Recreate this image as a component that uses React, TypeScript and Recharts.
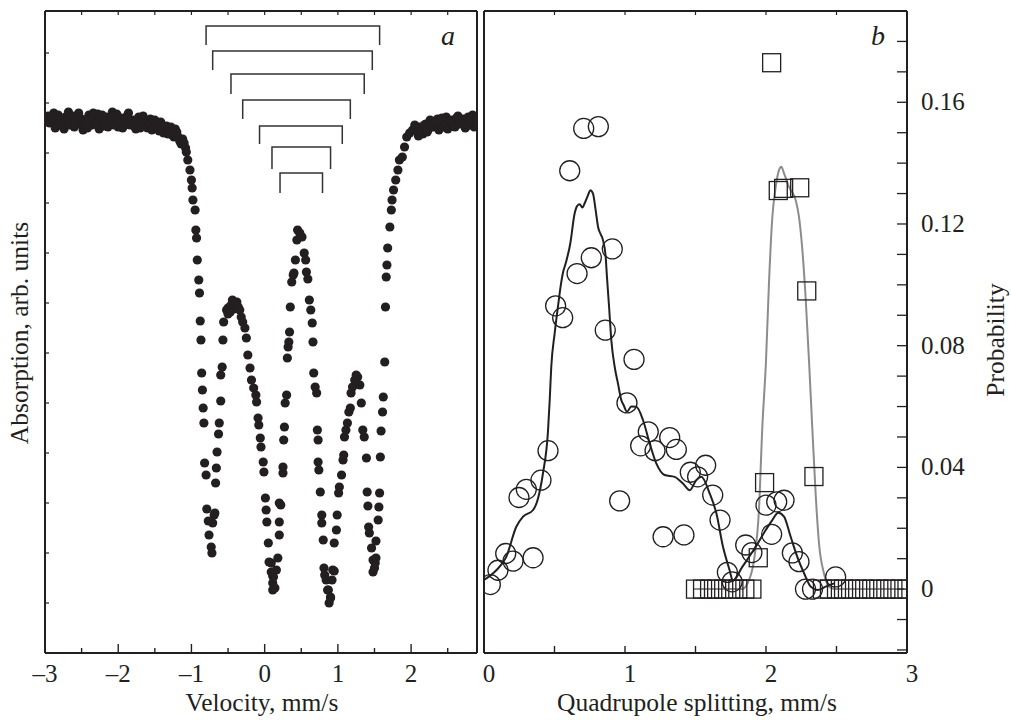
import React from 'react'
import { ComposedChart, Scatter, Line, XAxis, YAxis } from 'recharts'

const INK = '#231f20'
const GREY = '#8c8c8c'
const SERIF = "'Liberation Serif', 'Times New Roman', serif"

// panel a: Mössbauer spectrum [velocity mm/s, absorption arb. units]
const wingLeftA: [number, number][] = [
  [-2.96, 5.37], [-2.92, 5.32], [-2.88, 5.40], [-2.84, 5.29], [-2.80, 5.34], [-2.76, 5.27], [-2.72, 5.36], [-2.68, 5.41],
  [-2.64, 5.31], [-2.60, 5.26], [-2.56, 5.35], [-2.52, 5.29], [-2.48, 5.23], [-2.44, 5.33], [-2.40, 5.38], [-2.36, 5.28],
  [-2.32, 5.32], [-2.28, 5.39], [-2.24, 5.34], [-2.20, 5.27], [-2.16, 5.36], [-2.12, 5.31], [-2.08, 5.41], [-2.04, 5.33],
  [-2.00, 5.26], [-1.96, 5.35], [-1.92, 5.30], [-1.88, 5.37], [-1.84, 5.28], [-1.80, 5.33], [-1.76, 5.24], [-1.72, 5.36],
  [-1.68, 5.29], [-1.64, 5.32], [-1.60, 5.25], [-1.56, 5.34], [-1.52, 5.27], [-1.48, 5.30], [-1.44, 5.22], [-1.40, 5.28],
  [-1.36, 5.24], [-1.32, 5.19], [-1.28, 5.26], [-1.24, 5.16], [-1.20, 5.21], [-1.16, 5.12], [-1.12, 5.14], [-1.08, 5.05],
]
const wingLeftB: [number, number][] = [
  [-2.94, 5.30], [-2.90, 5.36], [-2.86, 5.25], [-2.82, 5.38], [-2.78, 5.31], [-2.74, 5.24], [-2.70, 5.33], [-2.66, 5.28],
  [-2.62, 5.37], [-2.58, 5.32], [-2.54, 5.40], [-2.50, 5.34], [-2.46, 5.29], [-2.42, 5.25], [-2.38, 5.35], [-2.34, 5.40],
  [-2.30, 5.29], [-2.26, 5.24], [-2.22, 5.38], [-2.18, 5.32], [-2.14, 5.26], [-2.10, 5.35], [-2.06, 5.28], [-2.02, 5.39],
  [-1.98, 5.32], [-1.94, 5.25], [-1.90, 5.34], [-1.86, 5.40], [-1.82, 5.31], [-1.78, 5.27], [-1.74, 5.32], [-1.70, 5.25],
  [-1.66, 5.37], [-1.62, 5.30], [-1.58, 5.28], [-1.54, 5.23], [-1.50, 5.33], [-1.46, 5.26], [-1.42, 5.31], [-1.38, 5.20],
  [-1.34, 5.27], [-1.30, 5.22], [-1.26, 5.18], [-1.22, 5.24], [-1.18, 5.16], [-1.14, 5.09], [-1.10, 5.10],
]
const resonance: [number, number][] = [
  [-1.07, 5.01], [-1.05, 4.93], [-1.02, 4.83], [-1.00, 4.73], [-0.99, 4.65], [-0.98, 4.53], [-0.95, 4.43], [-0.94, 4.23],
  [-0.93, 4.15], [-0.92, 3.93], [-0.90, 3.73], [-0.89, 3.60], [-0.88, 3.32], [-0.87, 3.13], [-0.86, 2.80], [-0.85, 2.63],
  [-0.84, 2.45], [-0.83, 2.30], [-0.82, 1.90], [-0.80, 1.78], [-0.79, 1.44], [-0.77, 1.32], [-0.76, 1.18], [-0.73, 1.06],
  [-0.72, 1.00], [-0.71, 1.30], [-0.69, 1.38], [-0.68, 1.40], [-0.67, 1.70], [-0.66, 1.85], [-0.65, 2.01], [-0.63, 2.19],
  [-0.62, 2.30], [-0.60, 2.52], [-0.60, 2.78], [-0.58, 2.86], [-0.57, 3.13], [-0.56, 3.31], [-0.52, 3.43], [-0.50, 3.39],
  [-0.50, 3.45], [-0.48, 3.46], [-0.47, 3.41], [-0.45, 3.49], [-0.44, 3.53], [-0.42, 3.44], [-0.41, 3.50], [-0.40, 3.47],
  [-0.38, 3.51], [-0.36, 3.46], [-0.34, 3.43], [-0.32, 3.36], [-0.30, 3.31], [-0.27, 3.25], [-0.25, 3.15], [-0.23, 2.98],
  [-0.20, 2.85], [-0.18, 2.73], [-0.15, 2.65], [-0.12, 2.58], [-0.11, 2.51], [-0.09, 2.35], [-0.08, 2.28], [-0.06, 2.15],
  [-0.05, 2.06], [-0.02, 1.91], [-0.01, 1.81], [0.01, 1.55], [0.02, 1.43], [0.03, 1.31], [0.05, 1.10], [0.06, 0.91],
  [0.09, 0.90], [0.09, 0.81], [0.11, 0.77], [0.11, 0.70], [0.11, 0.63], [0.12, 0.76], [0.14, 0.65], [0.16, 0.83],
  [0.18, 0.95], [0.20, 1.18], [0.20, 1.31], [0.20, 1.50], [0.22, 1.48], [0.25, 1.80], [0.25, 1.86], [0.26, 2.13],
  [0.27, 2.26], [0.28, 2.50], [0.30, 2.58], [0.31, 2.95], [0.32, 3.06], [0.33, 3.11], [0.34, 3.21], [0.35, 3.46],
  [0.37, 3.71], [0.39, 3.78], [0.40, 3.80], [0.42, 3.93], [0.44, 4.13], [0.45, 4.23], [0.48, 4.20], [0.49, 4.17],
  [0.51, 4.16], [0.54, 4.00], [0.56, 3.93], [0.57, 3.81], [0.59, 3.74], [0.61, 3.53], [0.63, 3.43], [0.65, 3.30],
  [0.66, 3.11], [0.67, 2.80], [0.69, 2.66], [0.71, 2.60], [0.72, 2.23], [0.73, 2.13], [0.73, 1.91], [0.74, 1.83],
  [0.76, 1.61], [0.78, 1.38], [0.78, 1.30], [0.80, 1.13], [0.81, 0.85], [0.82, 0.78], [0.84, 0.73], [0.86, 0.63],
  [0.87, 0.63], [0.88, 0.50], [0.90, 0.56], [0.90, 0.55], [0.92, 0.73], [0.93, 0.83], [0.95, 0.82], [0.95, 1.10],
  [0.98, 1.23], [0.99, 1.38], [1.01, 1.60], [1.02, 1.66], [1.05, 1.78], [1.07, 1.93], [1.08, 1.98], [1.09, 2.16],
  [1.11, 2.23], [1.13, 2.30], [1.15, 2.41], [1.17, 2.45], [1.18, 2.60], [1.20, 2.66], [1.23, 2.73], [1.25, 2.78],
  [1.27, 2.76], [1.30, 2.68], [1.32, 2.50], [1.34, 2.23], [1.36, 2.16], [1.39, 1.95], [1.40, 1.61], [1.41, 1.47],
  [1.42, 1.26], [1.43, 1.20], [1.46, 1.05], [1.48, 0.93], [1.48, 0.81], [1.50, 0.85], [1.51, 0.90], [1.52, 0.95],
  [1.52, 1.12], [1.55, 1.33], [1.56, 1.46], [1.57, 1.60], [1.58, 1.96], [1.59, 2.22], [1.61, 2.41], [1.62, 2.56],
  [1.64, 2.91], [1.65, 3.46], [1.66, 3.76], [1.67, 3.88], [1.68, 4.05], [1.71, 4.26], [1.73, 4.43], [1.74, 4.53],
  [1.76, 4.63], [1.79, 4.73], [1.82, 4.83], [1.84, 4.93], [1.88, 4.96], [1.91, 5.06], [1.94, 5.16], [1.98, 5.20],
  [2.02, 5.23], [2.05, 5.28],
]
const wingRightA: [number, number][] = [
  [2.08, 5.22], [2.12, 5.26], [2.16, 5.19], [2.20, 5.29], [2.24, 5.24], [2.28, 5.32], [2.32, 5.27], [2.36, 5.34],
  [2.40, 5.25], [2.44, 5.31], [2.48, 5.36], [2.52, 5.28], [2.56, 5.33], [2.60, 5.26], [2.64, 5.37], [2.68, 5.30],
  [2.72, 5.34], [2.76, 5.27], [2.80, 5.32], [2.84, 5.38], [2.88, 5.29],
]
const wingRightB: [number, number][] = [
  [2.10, 5.17], [2.14, 5.23], [2.18, 5.28], [2.22, 5.21], [2.26, 5.33], [2.30, 5.26], [2.34, 5.30], [2.38, 5.23],
  [2.42, 5.35], [2.46, 5.28], [2.50, 5.24], [2.54, 5.32], [2.58, 5.27], [2.62, 5.35], [2.66, 5.29], [2.70, 5.33],
  [2.74, 5.25], [2.78, 5.36], [2.82, 5.31], [2.86, 5.26], [2.90, 5.33],
]

// doublet brackets above the spectrum
const bracketLeft = [-0.80, -0.71, -0.46, -0.30, -0.07, 0.10, 0.21]
const bracketRight = [1.57, 1.47, 1.36, 1.17, 1.06, 0.90, 0.79]
const bracketLevel = [6.27, 6.02, 5.79, 5.53, 5.27, 5.06, 4.80]
const bracketFoot = [6.08, 5.83, 5.59, 5.34, 5.09, 4.84, 4.60]

// panel b: quadrupole splitting distributions [QS mm/s, probability]
const circlePoints: [number, number][] = [
  [0.045, 0.0015], [0.099, 0.0062], [0.154, 0.0117], [0.206, 0.0092], [0.248, 0.0301], [0.300, 0.0328],
  [0.348, 0.0103], [0.404, 0.0358], [0.454, 0.0455], [0.508, 0.0931], [0.558, 0.0892], [0.608, 0.1375],
  [0.660, 0.1037], [0.707, 0.1514], [0.761, 0.1089], [0.811, 0.152], [0.860, 0.0851], [0.910, 0.1118],
  [0.962, 0.029], [1.014, 0.0612], [1.064, 0.0755], [1.111, 0.0471], [1.165, 0.0517], [1.213, 0.0455],
  [1.270, 0.0172], [1.317, 0.0498], [1.364, 0.0459], [1.418, 0.0178], [1.463, 0.0384], [1.515, 0.0369],
  [1.572, 0.0407], [1.622, 0.0309], [1.674, 0.0227], [1.726, 0.0055], [1.76, 0.0024], [1.856, 0.0145],
  [1.90, 0.012], [2.0, 0.0276], [2.04, 0.018], [2.076, 0.0287], [2.128, 0.0292], [2.187, 0.0119],
  [2.234, 0.009], [2.28, 0], [2.33, 0], [2.494, 0.004],
]
const squarePoints: [number, number][] = [
  [1.5, 0], [1.55, 0], [1.6, 0], [1.65, 0], [1.7, 0], [1.75, 0], [1.8, 0], [1.85, 0], [1.9, 0],
  [1.945, 0.0103], [1.99, 0.035], [2.04, 0.173], [2.087, 0.131], [2.125, 0.1317], [2.239, 0.1319],
  [2.289, 0.098], [2.34, 0.037],
  [2.4, 0], [2.45, 0], [2.5, 0], [2.55, 0], [2.6, 0], [2.65, 0], [2.7, 0], [2.75, 0], [2.8, 0],
  [2.85, 0], [2.9, 0], [2.95, 0], [3.0, 0],
]
const circleFit: [number, number][] = [
  [0, 0.003], [0.087, 0.0062], [0.158, 0.0106], [0.229, 0.0205], [0.277, 0.0238], [0.348, 0.026],
  [0.383, 0.0298], [0.418, 0.038], [0.454, 0.052], [0.466, 0.0621], [0.477, 0.073], [0.501, 0.084],
  [0.525, 0.093], [0.545, 0.1], [0.56, 0.104], [0.579, 0.107], [0.612, 0.1136], [0.643, 0.1235],
  [0.66, 0.1259], [0.679, 0.1265], [0.697, 0.1254], [0.714, 0.1268], [0.738, 0.1295], [0.754, 0.1311],
  [0.773, 0.13], [0.792, 0.1245], [0.809, 0.119], [0.825, 0.1169], [0.844, 0.1147], [0.863, 0.1092],
  [0.872, 0.1026], [0.887, 0.0928], [0.903, 0.0818], [0.927, 0.073], [0.95, 0.0676], [0.974, 0.0621],
  [0.99, 0.0605], [1.014, 0.0583], [1.045, 0.06], [1.08, 0.0599], [1.128, 0.0555], [1.175, 0.0479],
  [1.222, 0.0413], [1.281, 0.0375], [1.352, 0.0369], [1.411, 0.0347], [1.459, 0.0325], [1.506, 0.0358],
  [1.541, 0.0369], [1.601, 0.0314], [1.648, 0.0249], [1.695, 0.0139], [1.742, 0.0062], [1.765, 0.0027],
  [1.832, 0.0073], [1.927, 0.0139], [1.998, 0.0194], [2.045, 0.0227], [2.087, 0.0251], [2.128, 0.0238],
  [2.175, 0.0172], [2.222, 0.0106], [2.27, 0.0052], [2.317, 0.0008], [2.364, -0.0003], [2.423, 0.0008],
  [2.482, 0.0019],
]
const squareFit: [number, number][] = [
  [1.49, 0], [1.83, 0], [1.88, 0.003], [1.915, 0.0095], [1.95, 0.026], [1.974, 0.0533], [2.0, 0.075],
  [2.021, 0.1005], [2.045, 0.1223], [2.069, 0.1322], [2.092, 0.1377], [2.109, 0.1388], [2.128, 0.1366],
  [2.163, 0.1322], [2.211, 0.1278], [2.234, 0.1223], [2.258, 0.1114], [2.282, 0.095], [2.305, 0.075],
  [2.328, 0.0533], [2.352, 0.0314], [2.376, 0.015], [2.411, 0.0052], [2.447, 0.0008], [2.494, 0], [2.98, 0],
]

const velocityTicks = [-3, -2.5, -2, -1.5, -1, -0.5, 0, 0.5, 1, 1.5, 2, 2.5]
const absorptionTicks = [0.5, 1, 1.5, 2, 2.5, 3, 3.5, 4, 4.5, 5, 5.5, 6]
const splittingTicks = [0, 0.5, 1, 1.5, 2, 2.5, 3]
const probabilityTicks = [
  -0.02, -0.01, 0, 0.01, 0.02, 0.03, 0.04, 0.05, 0.06, 0.07, 0.08, 0.09,
  0.1, 0.11, 0.12, 0.13, 0.14, 0.15, 0.16, 0.17, 0.18, 0.19,
]
const probabilityLabels = [0, 0.04, 0.08, 0.12, 0.16]

const toXY = (pts: [number, number][]) => pts.map(([x, y]) => ({ x, y }))
const axisLine = { stroke: INK, strokeWidth: 2 }

const BottomTick = (props: any) => {
  const { x, y, payload, majorLen, minorLen, shift } = props
  const v = payload.value
  const major = Number.isInteger(v)
  return (
    <g>
      <line x1={x} x2={x} y1={y} y2={y - (major ? majorLen : minorLen)} stroke={INK} strokeWidth={1.4} />
      {major && (
        <text x={x + shift} y={y + 29} textAnchor="middle" fontSize={25} fontFamily={SERIF} fill={INK}>
          {v < 0 ? `\u2013${-v}` : `${v}`}
        </text>
      )}
    </g>
  )
}

const TopTick = (props: any) => {
  const { x, y } = props
  return <line x1={x} x2={x} y1={y} y2={y + 4} stroke={INK} strokeWidth={1.2} />
}

const LeftTick = (props: any) => {
  const { x, y } = props
  return <line x1={x} x2={x + 4} y1={y} y2={y} stroke={INK} strokeWidth={1.2} />
}

const ProbTick = (props: any) => {
  const { x, y, payload } = props
  const v = payload.value
  const show = probabilityLabels.some(l => Math.abs(l - v) < 1e-9)
  return (
    <g>
      <line x1={x} x2={x - 10} y1={y} y2={y} stroke={INK} strokeWidth={1.3} />
      {show && (
        <text x={x + 14} y={y + 8} textAnchor="start" fontSize={25} fontFamily={SERIF} fill={INK}>
          {v === 0 ? '0' : v.toFixed(2)}
        </text>
      )}
    </g>
  )
}

const Dot = (p: any) => <circle cx={p.cx} cy={p.cy} r={4.6} fill={INK} />
const Ring = (p: any) => <circle cx={p.cx} cy={p.cy} r={10} fill="none" stroke={INK} strokeWidth={1.3} />
const Box = (p: any) => (
  <rect x={p.cx - 9} y={p.cy - 9} width={18} height={18} fill="none" stroke={INK} strokeWidth={1.3} />
)

const SpectrumPanel = () => {
  const spectrum = toXY([...wingLeftA, ...wingLeftB, ...resonance, ...wingRightA, ...wingRightB])
  return (
    <ComposedChart width={490} height={720} margin={{ top: 0, right: 0, bottom: 0, left: 0 }}>
      <XAxis xAxisId="b" type="number" dataKey="x" domain={[-3, 2.9]} allowDataOverflow ticks={velocityTicks}
        interval={0} height={67} tickSize={0} tickMargin={0} tickLine={false} axisLine={axisLine}
        tick={(p: any) => <BottomTick {...p} majorLen={9} minorLen={5} shift={0} />} />
      <XAxis xAxisId="t" orientation="top" type="number" dataKey="x" domain={[-3, 2.9]} allowDataOverflow
        ticks={velocityTicks} interval={0} height={11} tickSize={0} tickMargin={0} tickLine={false}
        axisLine={axisLine} tick={(p: any) => <TopTick {...p} />} />
      <YAxis yAxisId="l" type="number" domain={[0, 6.42]} allowDataOverflow ticks={absorptionTicks} interval={0}
        width={45} tickSize={0} tickMargin={0} tickLine={false} axisLine={axisLine}
        tick={(p: any) => <LeftTick {...p} />} />
      <YAxis yAxisId="r" orientation="right" type="number" domain={[0, 6.42]} allowDataOverflow width={13}
        tick={false} tickLine={false} axisLine={axisLine} />
      {bracketLeft.map((l, i) => (
        <Line key={`br-${i}`} xAxisId="b" yAxisId="l" type="linear" dataKey="y"
          data={[
            { x: l, y: bracketFoot[i] },
            { x: l, y: bracketLevel[i] },
            { x: bracketRight[i], y: bracketLevel[i] },
            { x: bracketRight[i], y: bracketFoot[i] },
          ]}
          stroke="#333" strokeWidth={1.5} dot={false} isAnimationActive={false} />
      ))}
      <Scatter xAxisId="b" yAxisId="l" data={spectrum} dataKey="y" shape={Dot} isAnimationActive={false} />
    </ComposedChart>
  )
}

const DistributionPanel = () => (
  <ComposedChart width={532} height={720} margin={{ top: 0, right: 0, bottom: 0, left: 0 }}>
    <XAxis xAxisId="b" type="number" dataKey="x" domain={[0, 3]} allowDataOverflow ticks={splittingTicks}
      interval={0} height={67} tickSize={0} tickMargin={0} tickLine={false} axisLine={axisLine}
      tick={(p: any) => <BottomTick {...p} majorLen={7} minorLen={7} shift={5} />} />
    <XAxis xAxisId="t" orientation="top" type="number" dataKey="x" domain={[0, 3]} allowDataOverflow
      ticks={splittingTicks} interval={0} height={11} tickSize={0} tickMargin={0} tickLine={false}
      axisLine={axisLine} tick={(p: any) => <TopTick {...p} />} />
    <YAxis yAxisId="l" type="number" domain={[-0.021, 0.19]} allowDataOverflow width={4} tick={false}
      tickLine={false} axisLine={axisLine} />
    <YAxis yAxisId="p" orientation="right" type="number" domain={[-0.021, 0.19]} allowDataOverflow
      ticks={probabilityTicks} interval={0} width={105} tickSize={0} tickMargin={0} tickLine={false}
      axisLine={axisLine} tick={(p: any) => <ProbTick {...p} />} />
    <Line xAxisId="b" yAxisId="p" type="monotone" data={toXY(squareFit)} dataKey="y" stroke={GREY}
      strokeWidth={2} dot={false} isAnimationActive={false} />
    <Line xAxisId="b" yAxisId="p" type="monotone" data={toXY(circleFit)} dataKey="y" stroke={INK}
      strokeWidth={2} dot={false} isAnimationActive={false} />
    <Scatter xAxisId="b" yAxisId="p" data={toXY(circlePoints)} dataKey="y" shape={Ring} isAnimationActive={false} />
    <Scatter xAxisId="b" yAxisId="p" data={toXY(squarePoints)} dataKey="y" shape={Box} isAnimationActive={false} />
  </ComposedChart>
)

export default function App() {
  const txt = { fontFamily: SERIF, fill: INK }
  return (
    <div style={{ position: 'absolute', left: 0, top: 0, width: 1012, height: 720, background: '#fff' }}>
      <div style={{ position: 'absolute', left: 0, top: 0 }}>
        <SpectrumPanel />
      </div>
      <div style={{ position: 'absolute', left: 480, top: 0 }}>
        <DistributionPanel />
      </div>
      <svg width={1012} height={720} style={{ position: 'absolute', left: 0, top: 0, pointerEvents: 'none' }}>
        <text x={262} y={711} textAnchor="middle" fontSize={25.5} {...txt}>Velocity, mm/s</text>
        <text x={697} y={711} textAnchor="middle" fontSize={25.5} {...txt}>Quadrupole splitting, mm/s</text>
        <text x={28} y={333} textAnchor="middle" fontSize={25.5} transform="rotate(-90 28 333)" {...txt}>
          Absorption, arb. units
        </text>
        <text x={1004} y={340} textAnchor="middle" fontSize={25.5} transform="rotate(-90 1004 340)" {...txt}>
          Probability
        </text>
        <text x={448} y={45} textAnchor="middle" fontSize={28} fontStyle="italic" {...txt}>a</text>
        <text x={878} y={45} textAnchor="middle" fontSize={28} fontStyle="italic" {...txt}>b</text>
      </svg>
    </div>
  )
}
